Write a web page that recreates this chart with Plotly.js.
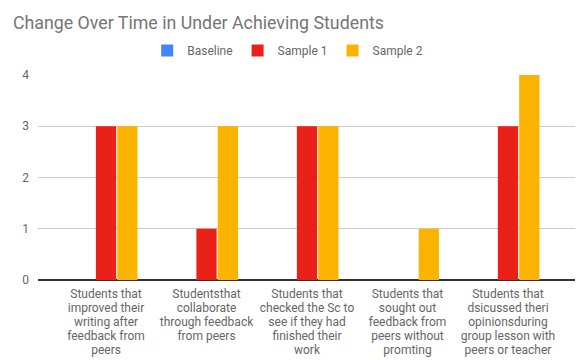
<!DOCTYPE html>
<html><head><meta charset="utf-8">
<script src="https://cdn.plot.ly/plotly-3.0.1.min.js"></script>
<style>body{margin:0}#c{width:587px;height:360px}</style>
</head><body><div id="c"></div>
<script>
const categories = [
  "Students that|improved their|writing after|feedback from|peers",
  "Studentsthat|collaborate|through feedback|from peers",
  "Students that|checked the Sc to|see if they had|finished their|work",
  "Students that|sought out|feedback from|peers without|promting",
  "Students that|dsicussed theri|opinionsduring|group lesson with|peers or teacher"
];
const baseline = [0, 0, 0, 0, 0];
const sample1 = [3, 1, 3, 0, 3];
const sample2 = [3, 3, 3, 1, 4];
const yTicks = [0, 1, 2, 3, 4];

const labelLines = categories.map(c => c.split('|'));
const nLines = Math.max(...labelLines.map(l => l.length));
const xRange = [-0.677, categories.length - 1 + 0.667];
const idx = categories.map((c, i) => i);
const linePitch = 14, firstOffset = 5;

const traces = [
  {type:'bar', name:'Baseline', x:categories, y:baseline, marker:{color:'#4285f4'}},
  {type:'bar', name:'Sample 1', x:categories, y:sample1, marker:{color:'#ea2119'}},
  {type:'bar', name:'Sample 2', x:categories, y:sample2, marker:{color:'#fbb300'}}
];
const tickFont = {family:'Roboto, sans-serif', size:12, color:'#666666'};
const layout = {
  width:587, height:360,
  margin:{l:38, r:12, t:75, b:80},
  paper_bgcolor:'#fff', plot_bgcolor:'#fff',
  font:{family:'Roboto, sans-serif', size:12, color:'#666666'},
  title:{text:'Change Over Time in Under Achieving Students', x:0.022, xanchor:'left', y:0.938, yanchor:'middle',
         font:{family:'Roboto, sans-serif', size:17.8, color:'#757575'}},
  showlegend:true,
  legend:{orientation:'h', x:0.465, xanchor:'center', y:1.12, yanchor:'middle', font:{size:12, color:'#666666'}, itemwidth:30},
  barmode:'group', bargap:0.363, bargroupgap:0.05,
  xaxis:{type:'category', range:xRange, tickmode:'array', tickvals:categories, ticktext:labelLines.map(l => l[0]),
         showgrid:false, zeroline:false, showline:false, ticks:'', tickfont:tickFont, ticklabelstandoff:firstOffset, automargin:false},
  yaxis:{range:[0,4], tickvals:yTicks, showgrid:true, gridcolor:'#cccccc', zeroline:true, zerolinecolor:'#333333', zerolinewidth:1.5, ticks:'', tickfont:tickFont, ticklabelstandoff:8, automargin:false}
};
for (let k = 1; k < nLines; k++) {
  const ax = 'x' + (k + 1);
  layout['xaxis' + (k + 1)] = {
    overlaying:'x', anchor:'y', side:'bottom', type:'linear', range:xRange,
    tickmode:'array', tickvals:idx, ticktext:labelLines.map(l => l[k] || ''),
    showgrid:false, zeroline:false, showline:false, ticks:'', tickfont:tickFont,
    ticklabelstandoff:firstOffset + linePitch * k, automargin:false
  };
  traces.push({type:'scatter', mode:'markers', x:[], y:[], xaxis:ax, yaxis:'y', showlegend:false, hoverinfo:'skip'});
}
Plotly.newPlot('c', traces, layout, {displayModeBar:false, staticPlot:true});
</script></body></html>
